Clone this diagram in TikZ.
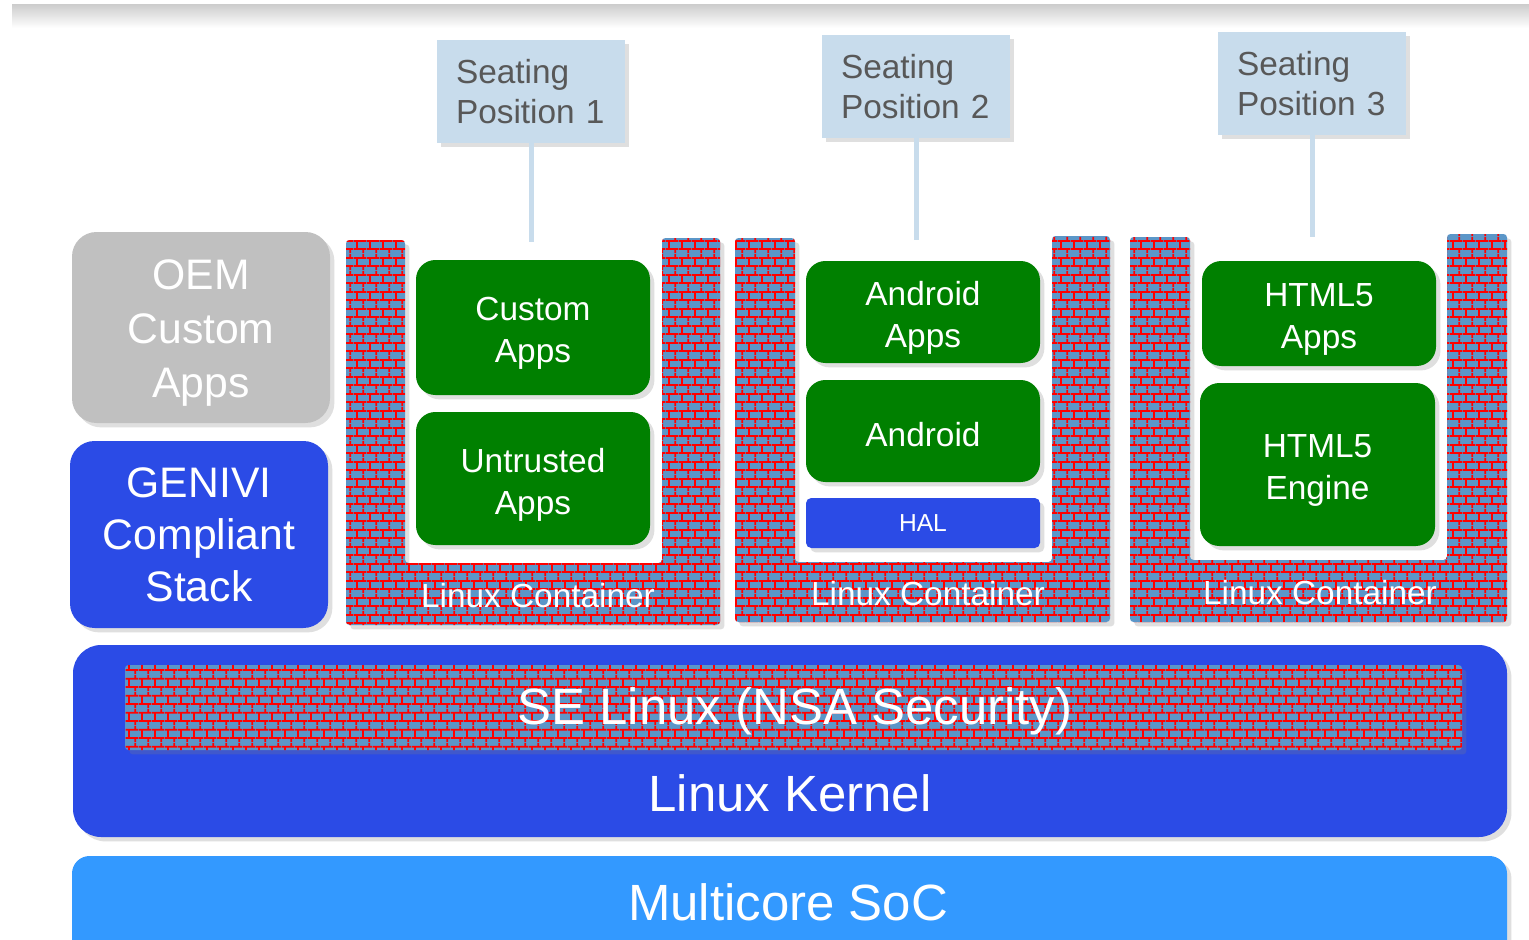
\documentclass[tikz,border=0pt]{standalone}
\usepackage{fontspec}
\setmainfont{Liberation Sans}
\usetikzlibrary{patterns,shadows}

\definecolor{brickblue}{RGB}{91,150,200}
\definecolor{appgreen}{RGB}{0,128,0}
\definecolor{stackblue}{RGB}{43,75,230}
\definecolor{socblue}{RGB}{51,153,255}
\definecolor{oemgray}{RGB}{192,192,192}
\definecolor{seatblue}{RGB}{200,220,236}
\definecolor{seattext}{RGB}{88,88,88}

\newcommand{\pxu}{0.02cm}

% red mortar, bricks come from the fill below it
\pgfdeclarepatternformonly{brickwall}{\pgfqpoint{0pt}{0pt}}{\pgfqpoint{7.2pt}{9.4pt}}{\pgfqpoint{7.2pt}{9.4pt}}{
	\pgfsetlinewidth{1pt}
	\pgfpathmoveto{\pgfqpoint{0pt}{2.35pt}}\pgfpathlineto{\pgfqpoint{7.2pt}{2.35pt}}
	\pgfpathmoveto{\pgfqpoint{0pt}{7.05pt}}\pgfpathlineto{\pgfqpoint{7.2pt}{7.05pt}}
	\pgfpathmoveto{\pgfqpoint{1.8pt}{2.35pt}}\pgfpathlineto{\pgfqpoint{1.8pt}{7.05pt}}
	\pgfpathmoveto{\pgfqpoint{5.4pt}{7.05pt}}\pgfpathlineto{\pgfqpoint{5.4pt}{9.4pt}}
	\pgfpathmoveto{\pgfqpoint{5.4pt}{0pt}}\pgfpathlineto{\pgfqpoint{5.4pt}{2.35pt}}
	\pgfusepath{stroke}
}

\tikzset{
	softshadow/.style={drop shadow={opacity=0.25, shadow xshift=2.5pt, shadow yshift=-2.5pt}},
	wall/.style={softshadow, preaction={fill=brickblue}, pattern=brickwall, pattern color=red, rounded corners=2pt},
	app/.style={softshadow, fill=appgreen, rounded corners=11pt, inner sep=0pt},
	apptext/.style={text=white, align=center, yshift=-3.4pt, font=\fontsize{19}{23.8}\selectfont},
	stack/.style={softshadow, rounded corners=14pt, inner sep=0pt},
	stacktext/.style={text=white, align=center, font=\fontsize{24.3}{29.5}\selectfont},
	seat/.style={softshadow, fill=seatblue, text=seattext, align=left, inner sep=0pt,
		text width=150*\pxu, minimum width=188*\pxu, minimum height=103*\pxu,
		font=\fontsize{19}{22.7}\selectfont},
	seatline/.style={seatblue, line width=5*\pxu},
	cont/.style={text=white, font=\fontsize{19}{22}\selectfont},
	big/.style={text=white, font=\fontsize{29}{34}\selectfont},
}

\begin{document}
\begin{tikzpicture}[x=0.02cm, y=-0.02cm]
	\useasboundingbox (0,0) rectangle (1529,940);
	\clip (0,0) rectangle (1529,940);
	\fill[white] (0,0) rectangle (1529,940);
	\shade[top color=gray!40, bottom color=white] (12,4) rectangle (1529,28);

	% seating positions
	\node[seat] (seat1) at (531,91.5) {Seating\\Position 1};
	\node[seat] (seat2) at (916,86.5) {Seating\\Position 2};
	\node[seat] (seat3) at (1312,83.5) {Seating\\Position 3};
	\coordinate (top1) at (531,242);
	\coordinate (top2) at (916,240);
	\coordinate (top3) at (1312,237);
	\draw[seatline] (seat1.south) -- (top1);
	\draw[seatline] (seat2.south) -- (top2);
	\draw[seatline] (seat3.south) -- (top3);

	% left column
	\node[stack, fill=oemgray, minimum width=258*\pxu, minimum height=191*\pxu,
		label={[stacktext, font=\fontsize{24.3}{30.6}\selectfont, yshift=-3pt]center:OEM\\Custom\\Apps}] (oem) at (201,327.5) {};
	\node[stack, fill=stackblue, minimum width=258*\pxu, minimum height=187*\pxu,
		label={[stacktext]center:GENIVI\\Compliant\\Stack}] (genivi) at (199,534.5) {};

	% containers
	\path[wall] (346,240) -- (405,240) -- (405,563) -- (662,563) -- (662,238) -- (720,238) -- (720,625) -- (346,625) -- cycle;
	\path[wall] (735,238) -- (795,238) -- (795,562) -- (1052,562) -- (1052,236) -- (1110,236) -- (1110,622) -- (735,622) -- cycle;
	\path[wall] (1130,237) -- (1190,237) -- (1190,560) -- (1447,560) -- (1447,234) -- (1507,234) -- (1507,622) -- (1130,622) -- cycle;
	\node[cont] (lc1) at (538,596) {Linux Container};
	\node[cont] (lc2) at (928,594) {Linux Container};
	\node[cont] (lc3) at (1320,593) {Linux Container};

	\node[app, minimum width=234*\pxu, minimum height=135*\pxu, label={[apptext]center:Custom\\Apps}] (custom) at (533,327.5) {};
	\node[app, minimum width=234*\pxu, minimum height=133*\pxu, label={[apptext]center:Untrusted\\Apps}] (untrusted) at (533,478.5) {};

	\node[app, minimum width=234*\pxu, minimum height=102*\pxu, label={[apptext]center:Android\\Apps}] (andapps) at (923,312) {};
	\node[app, minimum width=234*\pxu, minimum height=102*\pxu, label={[apptext, yshift=1.5pt]center:Android}] (android) at (923,431) {};
	\node[softshadow, fill=stackblue, text=white, rounded corners=3pt, inner sep=0pt, font=\fontsize{14}{16}\selectfont,
		minimum width=234*\pxu, minimum height=50*\pxu] (hal) at (923,523) {HAL};

	\node[app, minimum width=234*\pxu, minimum height=105*\pxu, label={[apptext]center:HTML5\\Apps}] (htmlapps) at (1319,313.5) {};
	\node[app, minimum width=235*\pxu, minimum height=163*\pxu, label={[apptext]center:HTML5\\Engine}] (htmlengine) at (1317.5,464.5) {};

	% kernel and SoC
	\node[softshadow, fill=stackblue, rounded corners=16pt, minimum width=1434*\pxu, minimum height=192*\pxu] (kernel) at (790,741) {};
	\node[wall, inner sep=0pt, minimum width=1337*\pxu, minimum height=85*\pxu] (selinux) at (793.5,707.5) {};
	\node[big] (selabel) at (795,711) {SE Linux (NSA Security)};
	\node[big] (kernellabel) at (790,793) {Linux Kernel};
	\node[softshadow, fill=socblue, rounded corners=10pt, minimum width=1435*\pxu, minimum height=110*\pxu] (soc) at (789.5,911) {};
	\node[big] (soclabel) at (788,902) {Multicore SoC};
\end{tikzpicture}
\end{document}
